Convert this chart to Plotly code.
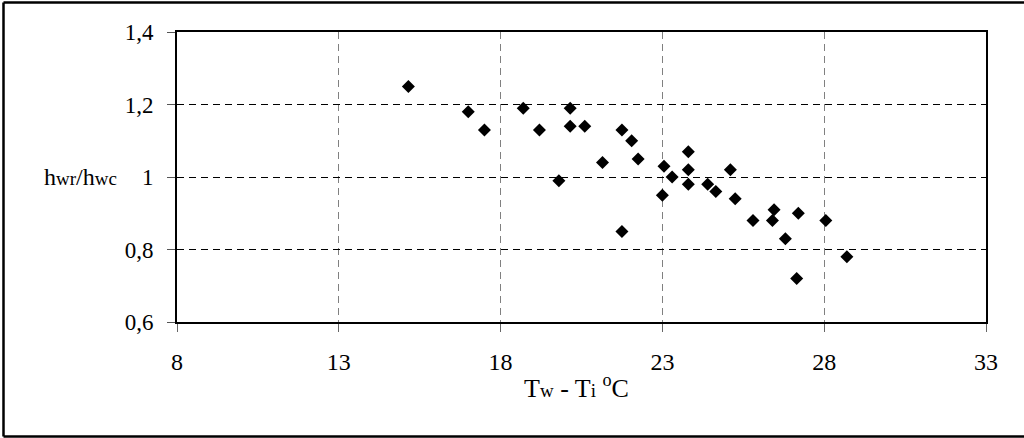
import plotly.graph_objects as go

# Temperature difference Tw - Ti (°C)
dT = [15.15, 17.0, 17.5, 18.7, 19.2, 20.15, 20.15, 20.6, 19.8, 21.15,
      21.75, 22.05, 22.25, 21.75, 23.05, 23.3, 23.0, 23.8, 23.8, 23.8,
      24.4, 24.65, 25.1, 25.25, 25.8, 26.45, 26.4, 27.2, 26.8, 27.15,
      28.05, 28.7]
# Ratio hwr/hwc
ratio = [1.25, 1.18, 1.13, 1.19, 1.13, 1.19, 1.14, 1.14, 0.99, 1.04,
         1.13, 1.10, 1.05, 0.85, 1.03, 1.00, 0.95, 1.07, 1.02, 0.98,
         0.98, 0.96, 1.02, 0.94, 0.88, 0.91, 0.88, 0.90, 0.83, 0.72,
         0.88, 0.78]

x_ticks = [8, 13, 18, 23, 28, 33]
y_ticks = [0.6, 0.8, 1.0, 1.2, 1.4]
y_tick_text = ["0,6", "0,8", "1", "1,2", "1,4"]

FONT = "Liberation Serif"

fig = go.Figure()
fig.add_trace(go.Scatter(
    x=dT, y=ratio, mode="markers",
    marker=dict(symbol="diamond", size=10, color="black",
                line=dict(width=0)),
    showlegend=False, hoverinfo="x+y",
))

fig.update_layout(
    width=1024, height=438,
    margin=dict(l=177, r=38, t=32, b=116),
    paper_bgcolor="white", plot_bgcolor="white",
    font=dict(family=FONT, size=24, color="black"),
    xaxis=dict(
        range=[8, 33], tickvals=x_ticks, ticktext=[str(v) for v in x_ticks],
        showgrid=True, gridcolor="#808080", gridwidth=1, griddash="7px,5px",
        showline=True, linecolor="black", linewidth=2, mirror=True,
        ticks="outside", ticklen=8, tickcolor="#666", tickwidth=1,
        ticklabelstandoff=9, zeroline=False,
        tickfont=dict(family=FONT, size=24, color="black"),
    ),
    yaxis=dict(
        range=[0.6, 1.4], tickvals=y_ticks, ticktext=y_tick_text,
        showgrid=True, gridcolor="black", gridwidth=1, griddash="7px,5px",
        showline=True, linecolor="black", linewidth=2, mirror=True,
        ticks="outside", ticklen=8, tickcolor="#555", tickwidth=1,
        ticklabelstandoff=9, zeroline=False,
        tickfont=dict(family=FONT, size=23, color="black"),
    ),
)

# Axis titles with smaller index letters
fig.add_annotation(
    xref="paper", yref="y", x=-0.072, y=1.0, xanchor="right", yanchor="middle",
    showarrow=False,
    text="h<span style='font-size:19px'>wr</span>/h<span style='font-size:19px'>wc</span>",
    font=dict(family=FONT, size=24, color="black"),
)
fig.add_annotation(
    xref="paper", yref="paper", x=0.494, y=-0.16, xanchor="center", yanchor="top",
    showarrow=False,
    text="T<span style='font-size:19px'>w</span> - T<span style='font-size:19px'>i</span> "
         "<sup>o</sup>C",
    font=dict(family=FONT, size=26, color="black"),
)

# Outer chart frame: top, left and bottom edges
pw = 1024 - 177 - 38
ph = 438 - 32 - 116
fx0, fx1 = (3.5 - 177) / pw, (1024 - 177) / pw
fy0, fy1 = (ph + 32 - 436.5) / ph, (ph + 32 - 2.5) / ph
for x0, y0, x1, y1 in [(fx0, fy1, fx1, fy1), (fx0, fy0, fx1, fy0), (fx0, fy0, fx0, fy1)]:
    fig.add_shape(type="line", xref="paper", yref="paper", layer="above",
                  x0=x0, y0=y0, x1=x1, y1=y1,
                  line=dict(color="black", width=2.5))

fig.write_html("out.html")
